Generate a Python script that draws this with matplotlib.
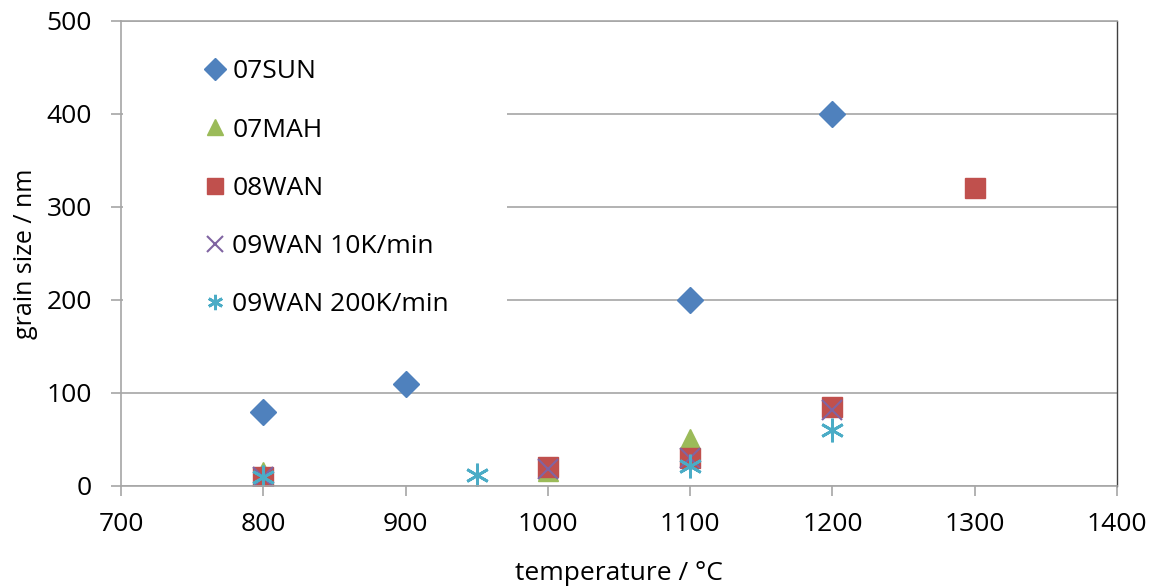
import matplotlib.pyplot as plt
from matplotlib.patches import Rectangle

plt.rcParams['font.family'] = ['Open Sans', 'DejaVu Sans']

# data
sun_t = [800, 900, 1100, 1200]
sun_d = [80, 110, 200, 400]
mah_t = [800, 1000, 1100]
mah_d = [15, 16, 50]
wan08_t = [800, 1000, 1100, 1200, 1300]
wan08_d = [10, 20, 30, 85, 320]
wan09_10_t = [800, 1000, 1100, 1200]
wan09_10_d = [10, 18, 30, 82]
wan09_200_t = [800, 950, 1100, 1200]
wan09_200_d = [10, 12, 22, 60]

GRID = '#a6a6a6'


def main() -> None:
    fig = plt.figure(figsize=(11.57, 5.88), dpi=100)
    ax = fig.add_axes([0.1046, 0.1735, 0.8608, 0.7908])

    ax.plot(sun_t, sun_d, 'D', color='#4f81bd', ms=13, ls='none', label='07SUN', zorder=2)
    ax.plot(mah_t, mah_d, '^', color='#9bbb59', ms=14, ls='none', label='07MAH', zorder=2)
    ax.plot(wan08_t, wan08_d, 's', color='#c0504d', ms=14, ls='none', label='08WAN', zorder=2)
    ax.plot(wan09_10_t, wan09_10_d, 'x', color='#8064a2', ms=14, mew=1.5,
            ls='none', label='09WAN 10K/min', zorder=2)
    ax.plot(wan09_200_t, wan09_200_d, marker=(6, 2, 0), color='#4bacc6', ms=17,
            mew=2.0, ls='none', label='09WAN 200K/min', zorder=2)

    ax.set_xlim(700, 1400)
    ax.set_ylim(0, 500)
    ax.set_xticks(range(700, 1401, 100))
    ax.set_yticks(range(0, 501, 100))
    ax.grid(axis='y', color=GRID, lw=1.2)
    ax.set_axisbelow(True)

    # white area behind the legend hides the grid lines
    ax.add_patch(Rectangle((0.002, 0.335), 0.386, 0.635, transform=ax.transAxes,
                           facecolor='white', edgecolor='none', zorder=1))

    for s in ['left', 'bottom', 'top']:
        ax.spines[s].set_color(GRID)
        ax.spines[s].set_linewidth(1.2)
    ax.spines['right'].set_color('#404040')
    ax.spines['right'].set_linewidth(1.0)
    ax.tick_params(axis='both', colors=GRID, labelcolor='black', labelsize=19,
                   direction='out', length=7, width=1.2)
    ax.tick_params(axis='x', pad=12)
    ax.tick_params(axis='y', pad=14)

    ax.set_xlabel('temperature / °C', fontsize=19, labelpad=17)
    ax.set_ylabel('grain size / nm', fontsize=18, labelpad=6)

    leg = ax.legend(loc='upper left', bbox_to_anchor=(0.0705, 0.94), fontsize=19,
                    frameon=False, labelspacing=1.26, handletextpad=0.15,
                    handlelength=1.0, borderpad=0.4, borderaxespad=0)
    leg.set_zorder(5)
    for h in leg.legend_handles:
        h.set_markersize(11)

    fig.savefig('out.png', dpi=100)


if __name__ == '__main__':
    main()
